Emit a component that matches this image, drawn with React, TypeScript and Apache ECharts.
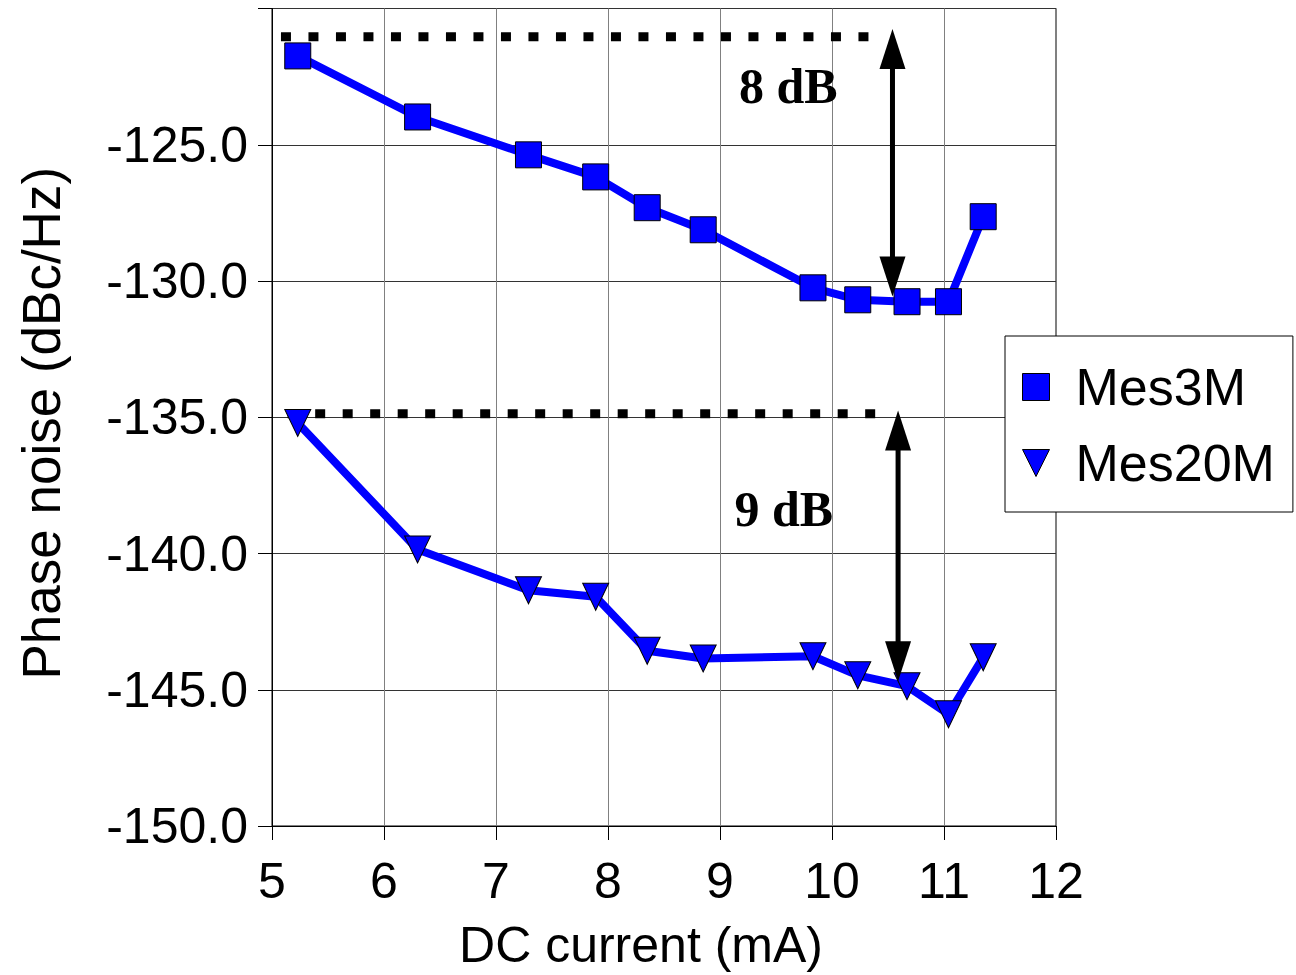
import React, { useEffect, useRef } from "react";
import * as echarts from "echarts";

const currents = [5.23, 6.3, 7.29, 7.89, 8.35, 8.85, 9.83, 10.23, 10.67, 11.04, 11.35];
const mes3M = [-121.74, -123.98, -125.37, -126.18, -127.31, -128.12, -130.25, -130.69, -130.76, -130.76, -127.64];
const mes20M = [-135.21, -139.85, -141.35, -141.59, -143.57, -143.85, -143.77, -144.47, -144.87, -145.9, -143.81];

const xTicks = { min: 5, max: 12, interval: 1 };
const yTicks = { min: -150, max: -120, interval: 5 };

// dotted reference lines: [xStart, xEnd, y]
const refLines = [
  [5.08, 10.35, -121.04],
  [5.14, 10.44, -134.87],
];
// arrows: [x, yTop, yBottom]
const arrows = [
  [10.54, -120.75, -130.57],
  [10.59, -134.75, -144.69],
];
// annotation texts: [x, y, text]
const notes: [number, number, string][] = [
  [9.61, -122.84, "8 dB"],
  [9.57, -138.35, "9 dB"],
];

const SANS = "'Liberation Sans', Arial, sans-serif";
const SERIF = "'Liberation Serif', 'Times New Roman', serif";

export default function App() {
  const ref = useRef<HTMLDivElement>(null);
  useEffect(() => {
    const chart = echarts.init(ref.current!, null, { renderer: "svg" });
    const refSeries = refLines.map((l, i) => ({
      name: "ref" + i,
      type: "line",
      data: [
        [l[0], l[2]],
        [l[1], l[2]],
      ],
      symbol: "none",
      lineStyle: { color: "#000", width: 9, type: [10, 17.5], cap: "butt" },
      z: 1,
      silent: true,
    }));
    chart.setOption({
      animation: false,
      grid: {
        left: 272,
        top: 8.5,
        right: 240,
        bottom: 148,
        show: true,
        borderColor: "#000",
        borderWidth: 1,
      },
      xAxis: {
        type: "value",
        ...xTicks,
        name: "DC current (mA)",
        nameLocation: "middle",
        nameGap: 94,
        nameTextStyle: { fontFamily: SANS, fontSize: 50, color: "#000", padding: [0, 46, 0, 0] },
        axisLine: { lineStyle: { color: "#000", width: 1 } },
        axisTick: { show: true, length: 14, lineStyle: { color: "#000" } },
        axisLabel: { fontFamily: SANS, fontSize: 50, color: "#000", margin: 30 },
        splitLine: { show: true, lineStyle: { color: "#808080", width: 1 } },
      },
      yAxis: {
        type: "value",
        ...yTicks,
        name: "Phase noise (dBc/Hz)",
        nameLocation: "middle",
        nameGap: 204,
        nameRotate: 90,
        nameTextStyle: { fontFamily: SANS, fontSize: 53, color: "#000", padding: [0, 12, 0, 0] },
        axisLine: { show: true, lineStyle: { color: "#000", width: 1 } },
        axisTick: { show: true, length: 14, lineStyle: { color: "#000" } },
        axisLabel: {
          fontFamily: SANS,
          fontSize: 50,
          color: "#000",
          margin: 24,
          formatter: (v: number) => (v === yTicks.max ? "" : v.toFixed(1)),
        },
        splitLine: { show: true, lineStyle: { color: "#333", width: 1 } },
      },
      legend: {
        orient: "vertical",
        left: 1005,
        top: 336,
        padding: [21, 18, 19, 17],
        itemWidth: 27,
        itemHeight: 27,
        itemGap: 16,
        borderColor: "#000",
        borderWidth: 1,
        backgroundColor: "#fff",
        itemStyle: { borderColor: "#000", borderWidth: 1 },
        textStyle: {
          fontFamily: SANS,
          fontSize: 52,
          color: "#000",
          padding: [0, 0, 0, 21],
          lineHeight: 60,
        },
        data: [
          { name: "Mes3M", icon: "rect" },
          { name: "Mes20M", icon: "path://M0,0L10,0L5,10Z" },
        ],
        z: 10,
      },
      series: [
        ...refSeries,
        {
          name: "Mes3M",
          type: "line",
          data: currents.map((x, i) => [x, mes3M[i]]),
          symbol: "rect",
          symbolSize: 26,
          lineStyle: { color: "#0000ff", width: 8 },
          itemStyle: { color: "#0000ff", borderColor: "#000", borderWidth: 1 },
          z: 3,
        },
        {
          name: "Mes20M",
          type: "line",
          data: currents.map((x, i) => [x, mes20M[i]]),
          symbol: "triangle",
          symbolRotate: 180,
          symbolSize: [26, 27],
          lineStyle: { color: "#0000ff", width: 8 },
          itemStyle: { color: "#0000ff", borderColor: "#000", borderWidth: 1 },
          z: 3,
        },
        {
          name: "arrows",
          type: "custom",
          data: arrows,
          encode: { x: 0, y: [1, 2] },
          clip: false,
          z: 4,
          silent: true,
          renderItem: (params: any, api: any) => {
            const x = api.value(0);
            const p1 = api.coord([x, api.value(1)]);
            const p2 = api.coord([x, api.value(2)]);
            const hh = 40;
            const hw = 13;
            const style = { fill: "#000" };
            return {
              type: "group",
              children: [
                {
                  type: "rect",
                  shape: { x: p1[0] - 2.5, y: p1[1] + hh - 2, width: 5, height: p2[1] - p1[1] - 2 * hh + 4 },
                  style,
                },
                {
                  type: "polygon",
                  shape: { points: [[p1[0], p1[1]], [p1[0] - hw, p1[1] + hh], [p1[0] + hw, p1[1] + hh]] },
                  style,
                },
                {
                  type: "polygon",
                  shape: { points: [[p2[0], p2[1]], [p2[0] - hw, p2[1] - hh], [p2[0] + hw, p2[1] - hh]] },
                  style,
                },
              ],
            };
          },
        },
        {
          name: "notes",
          type: "custom",
          data: notes,
          encode: { x: 0, y: 1 },
          clip: false,
          z: 5,
          silent: true,
          renderItem: (params: any, api: any) => {
            const p = api.coord([api.value(0), api.value(1)]);
            return {
              type: "text",
              x: p[0],
              y: p[1],
              style: {
                text: notes[params.dataIndex][2],
                fill: "#000",
                fontFamily: SERIF,
                fontWeight: "bold",
                fontSize: 50,
                align: "center",
                verticalAlign: "middle",
              },
            };
          },
        },
      ],
    });
    return () => chart.dispose();
  }, []);
  return (
    <div
      ref={ref}
      style={{ position: "fixed", left: 0, top: 0, width: 1296, height: 975 }}
    />
  );
}
